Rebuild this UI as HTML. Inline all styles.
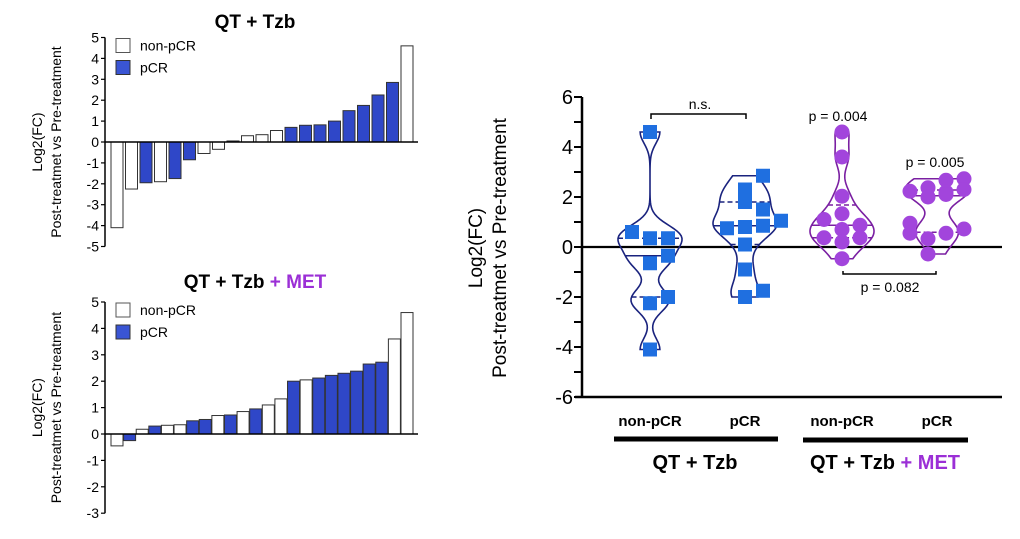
<!DOCTYPE html>
<html><head><meta charset="utf-8"><style>
body{margin:0;background:#fff;}
svg{display:block;font-family:"Liberation Sans",Arial,sans-serif;}
</style></head><body>
<svg id="s" width="1020" height="539" viewBox="0 0 1020 539"></svg>
<script>
// ---- data: waterfall QT+Tzb ----
const wf1Values=[-4.1,-2.25,-1.95,-1.9,-1.75,-0.85,-0.55,-0.35,0.05,0.3,0.35,0.55,0.7,0.8,0.82,1.0,1.5,1.75,2.25,2.85,4.6];
const wf1Resp=[0,0,1,0,1,1,0,0,1,0,0,0,1,1,1,1,1,1,1,1,0];
const wf1Ticks=[5,4,3,2,1,0,-1,-2,-3,-4,-5];
// ---- data: waterfall QT+Tzb+MET ----
const wf2Values=[-0.45,-0.25,0.18,0.3,0.33,0.35,0.5,0.55,0.7,0.72,0.85,0.95,1.1,1.33,2.0,2.05,2.12,2.22,2.3,2.38,2.65,2.72,3.6,4.6];
const wf2Resp=[0,1,0,1,0,0,1,1,0,1,0,1,0,0,1,0,1,1,1,1,1,1,0,0];
const wf2Ticks=[5,4,3,2,1,0,-1,-2,-3];
// ---- data: violin groups ----
const vGroups=["non-pCR","pCR","non-pCR","pCR"];
const v1Vals=[4.6,0.6,0.35,0.35,-0.35,-0.65,-2.0,-2.25,-4.1];
const v1Off=[0,-1,0,1,1,0,1,0,0];
const v2Vals=[2.85,2.3,2.1,1.8,1.5,1.05,0.75,0.8,0.85,0.1,-0.9,-1.75,-2.0];
const v2Off=[1,0,0,0,1,2,-1,0,1,0,0,1,0];
const v3Vals=[4.6,3.6,2.03,1.33,1.1,0.87,0.7,0.37,0.37,0.2,-0.47];
const v3Off=[0,0,0,0,-1,1,0,-1,1,0,0];
const v4Vals=[2.67,2.73,2.23,2.37,2.2,2.3,2.0,2.1,0.95,0.55,0.33,0.55,0.72,-0.28];
const v4Off=[0.5,1.5,-1.5,-0.5,0.5,1.5,-0.5,0.5,-1.5,-1.5,-0.5,0.5,1.5,-0.5];
const vTicks=[6,4,2,0,-2,-4,-6];

const S=document.getElementById('s');const NS='http://www.w3.org/2000/svg';
function mk(t,a,p){const e=document.createElementNS(NS,t);for(const k in a)e.setAttribute(k,a[k]);(p||S).appendChild(e);return e;}
function txt(x,y,s,a,p){const e=mk('text',Object.assign({x:x,y:y},a||{}),p);e.textContent=s;return e;}

function waterfall(vals,resp,ticks,top,zeroY,unit,title,met,nm){
  const g=mk('g',{});
  const ax=105,yS=v=>zeroY-v*unit,x0=111,pitch=(413-12-111)/(vals.length-1);
  const tl=txt(255,top,title,{'font-size':19,'font-weight':'bold','text-anchor':'middle'},g);
  
  if(met){const ts=mk('tspan',{fill:'#9b2fd6'},tl);ts.textContent=' + MET';}
  const lo=ticks[ticks.length-1],hi=ticks[0];
  const axl=mk('line',{x1:ax,x2:ax,y1:yS(hi),y2:yS(lo),stroke:'#000','stroke-width':1.5},g);
  
  ticks.forEach(t=>{mk('line',{x1:ax-4,x2:ax,y1:yS(t),y2:yS(t),stroke:'#000','stroke-width':1.2},g);
    const l=txt(ax-6,yS(t)+5,String(t),{'font-size':14,'text-anchor':'end'},g);
    });
  vals.forEach((v,i)=>{const x=x0+i*pitch,y=yS(Math.max(v,0)),h=Math.abs(v)*unit;
    const r=mk('rect',{x:x,y:y,width:12,height:Math.max(h,1),fill:resp[i]?'#2f47c8':'#fff',stroke:'#333','stroke-width':1},g);
    });
  const z=mk('line',{x1:ax,x2:418,y1:zeroY,y2:zeroY,stroke:'#000','stroke-width':1.5},g);
  
  const ly=yS(hi);
  const l1=mk('rect',{x:116,y:ly+1,width:14,height:14,fill:'#fff',stroke:'#555'},g);
  
  const t1=txt(140,ly+13,'non-pCR',{'font-size':14},g);
  const l2=mk('rect',{x:116,y:ly+23,width:14,height:14,fill:'#3a55d4',stroke:'#333'},g);
  
  const t2=txt(140,ly+35,'pCR',{'font-size':14},g);
  const cy=(yS(hi)+yS(lo))/2;
  const a=txt(0,0,'Log2(FC)',{'font-size':14,'text-anchor':'middle',transform:`translate(42,${cy}) rotate(-90)`},g);
  
  const b=txt(0,0,'Post-treatmet vs Pre-treatment',{'font-size':14,'text-anchor':'middle',transform:`translate(61,${cy}) rotate(-90)`},g);
  
}
waterfall(wf1Values,wf1Resp,wf1Ticks,28,142,20.9,'QT + Tzb',false,'waterfall-qt-tzb');
waterfall(wf2Values,wf2Resp,wf2Ticks,288,434,26.4,'QT + Tzb',true,'waterfall-qt-tzb-met');

// ---- violin chart ----
const VX=582,vZero=247,vUnit=25,vy=v=>vZero-v*vUnit;
const centers=[650,745,842,937];
const vg=mk('g',{});
mk('line',{x1:VX,x2:VX,y1:vy(6),y2:vy(-6),stroke:'#000','stroke-width':2.5},vg);
mk('line',{x1:575,x2:1002,y1:vy(-6),y2:vy(-6),stroke:'#000','stroke-width':2.5},vg);
mk('line',{x1:VX,x2:1002,y1:vZero,y2:vZero,stroke:'#000','stroke-width':2.2},vg);
for(let t=-6;t<=6;t++){mk('line',{x1:VX-8,x2:VX,y1:vy(t),y2:vy(t),stroke:'#000','stroke-width':2},vg);}
vTicks.forEach(t=>{const l=txt(573,vy(t)+7,String(t),{'font-size':20,'text-anchor':'end'},vg);
  });
const ya=txt(0,0,'Log2(FC)',{'font-size':19,'text-anchor':'middle',transform:'translate(482,248) rotate(-90)'},vg);

const yb=txt(0,0,'Post-treatmet vs Pre-treatment',{'font-size':19,'text-anchor':'middle',transform:'translate(506,248) rotate(-90)'},vg);


function quant(a,q){const s=[...a].sort((x,y)=>x-y);const p=(s.length-1)*q,i=Math.floor(p);return s[i]+(s[Math.min(i+1,s.length-1)]-s[i])*(p-i);}
function violin(vals,offs,cx,col,mcol,sq,nm){
  const g=mk('g',{},vg);
  const mn=Math.min(...vals),mx=Math.max(...vals),bw=0.45,N=90;
  const dens=v=>vals.reduce((s,d)=>s+Math.exp(-0.5*((v-d)/bw)**2),0);
  const pts=[];let dm=0;
  for(let i=0;i<=N;i++){const v=mn+(mx-mn)*i/N,d=dens(v);pts.push([v,d]);dm=Math.max(dm,d);}
  const W=32,hw=v=>dens(v)/dm*W;
  let p='M'+pts.map(([v,d])=>`${cx+d/dm*W},${vy(v)}`).join('L');
  p+='L'+pts.slice().reverse().map(([v,d])=>`${cx-d/dm*W},${vy(v)}`).join('L')+'Z';
  const sh=mk('path',{d:p,fill:'none',stroke:col,'stroke-width':1.6},g);
  
  [[0.25,1],[0.5,0],[0.75,1]].forEach(([q,dash])=>{const v=quant(vals,q),w=hw(v);
    const l=mk('line',{x1:cx-w,x2:cx+w,y1:vy(v),y2:vy(v),stroke:col,'stroke-width':1.5,'stroke-dasharray':dash?'5,3':'none'},g);
    });
  vals.forEach((v,i)=>{const x=cx+offs[i]*18,y=vy(v);let e;
    if(sq)e=mk('rect',{x:x-7,y:y-7,width:14,height:14,fill:mcol},g);
    else e=mk('circle',{cx:x,cy:y,r:7.5,fill:mcol},g);
    });
}
violin(v1Vals,v1Off,centers[0],'#1a237e','#1f6fe0',true,'violin-qt-tzb-non-pcr');
violin(v2Vals,v2Off,centers[1],'#1a237e','#1f6fe0',true,'violin-qt-tzb-pcr');
violin(v3Vals,v3Off,centers[2],'#7a1fa2','#a245dc',false,'violin-met-non-pcr');
violin(v4Vals,v4Off,centers[3],'#7a1fa2','#a245dc',false,'violin-met-pcr');

vGroups.forEach((n,i)=>{const l=txt(centers[i],426,n,{'font-size':15,'font-weight':'bold','text-anchor':'middle'},vg);
  });
const g1=mk('line',{x1:614,x2:778,y1:439,y2:439,stroke:'#000','stroke-width':5},vg);

const g2=mk('line',{x1:803,x2:968,y1:440,y2:440,stroke:'#000','stroke-width':5},vg);

const gt1=txt(695,469,'QT + Tzb',{'font-size':20,'font-weight':'bold','text-anchor':'middle'},vg);

const gt2=txt(885,469,'QT + Tzb ',{'font-size':20,'font-weight':'bold','text-anchor':'middle'},vg);

const ts=mk('tspan',{fill:'#9b2fd6'},gt2);ts.textContent='+ MET';
// annotations
mk('path',{d:'M651,119 V114 H746 V119',fill:'none',stroke:'#000','stroke-width':1.5},vg);
const ns=txt(700,109,'n.s.',{'font-size':14,'text-anchor':'middle'},vg);
const pa=txt(838,121,'p = 0.004',{'font-size':14,'text-anchor':'middle'},vg);
const pb=txt(935,167,'p = 0.005',{'font-size':14,'text-anchor':'middle'},vg);
mk('path',{d:'M843,271 V274 H936 V271',fill:'none',stroke:'#000','stroke-width':1.5},vg);
const pc=txt(890,292,'p = 0.082',{'font-size':14,'text-anchor':'middle'},vg);
</script>
</body></html>
